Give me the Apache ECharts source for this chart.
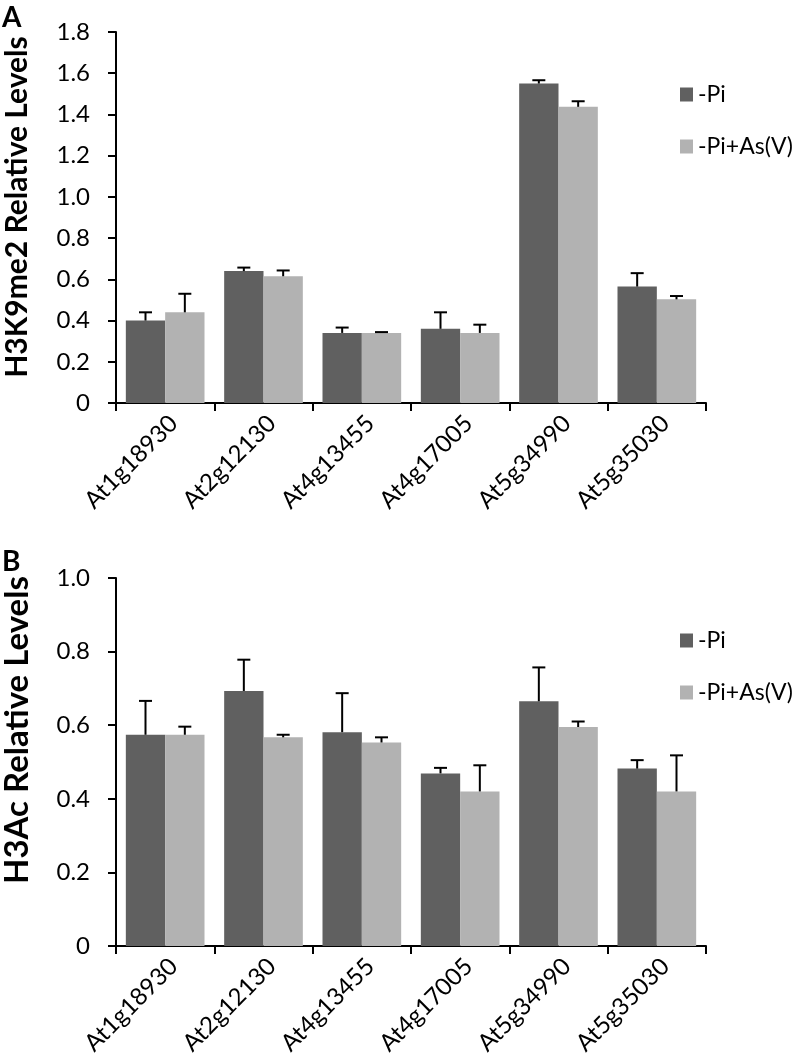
<!DOCTYPE html>
<html>
<head>
<meta charset="utf-8">
<script src="https://cdn.jsdelivr.net/npm/echarts@6/dist/echarts.min.js"></script>
<style>
html,body{margin:0;padding:0;background:#fff;}
#chart{width:792px;height:1058px;}
</style>
</head>
<body>
<div id="chart"></div>
<script>
const categories = ['At1g18930', 'At2g12130', 'At4g13455', 'At4g17005', 'At5g34990', 'At5g35030'];
const seriesNames = ['-Pi', '-Pi+As(V)'];
const panelLetters = ['A', 'B'];
const yTitles = ['H3K9me2 Relative Levels', 'H3Ac Relative Levels'];

// Panel A: H3K9me2
const h3k9Pi = [0.40, 0.64, 0.34, 0.36, 1.55, 0.565];
const h3k9PiErr = [0.04, 0.017, 0.026, 0.08, 0.016, 0.065];
const h3k9As = [0.44, 0.615, 0.34, 0.34, 1.437, 0.503];
const h3k9AsErr = [0.09, 0.028, 0.004, 0.04, 0.027, 0.016];

// Panel B: H3Ac
const h3acPi = [0.574, 0.693, 0.581, 0.469, 0.665, 0.482];
const h3acPiErr = [0.092, 0.085, 0.106, 0.015, 0.092, 0.023];
const h3acAs = [0.574, 0.567, 0.553, 0.420, 0.595, 0.420];
const h3acAsErr = [0.022, 0.007, 0.014, 0.071, 0.015, 0.098];

const yMax = [1.8, 1.0];
const yInterval = 0.2;

const DARK = '#606060';
const LIGHT = '#b2b2b2';
const FONT = 'Lato, "Open Sans", sans-serif';

const chart = echarts.init(document.getElementById('chart'), null, {renderer: 'canvas'});

const grids = [
  {left: 116, top: 32, width: 590, height: 371},
  {left: 116, top: 578, width: 590, height: 371}
];

function xAxisFor(idx) {
  return {
    type: 'category', gridIndex: idx, data: categories,
    axisLine: {lineStyle: {color: '#000', width: 2}},
    axisTick: {show: true, length: 8, lineStyle: {color: '#000', width: 2}},
    axisLabel: {
      rotate: 45, margin: 8, color: '#000', fontFamily: FONT, fontSize: 24,
      verticalAlign: 'top', interval: 0
    }
  };
}
function yAxisFor(idx) {
  return {
    type: 'value', gridIndex: idx, min: 0, max: yMax[idx], interval: yInterval,
    splitLine: {show: false},
    axisLine: {show: true, lineStyle: {color: '#000', width: 2}},
    axisTick: {show: true, length: 8, lineStyle: {color: '#000', width: 2}},
    axisLabel: {
      margin: 26, color: '#000', fontFamily: FONT, fontSize: 24,
      formatter: v => (Math.abs(v) < 1e-9 ? '0' : v.toFixed(1))
    }
  };
}

function barSeries(name, data, idx, color) {
  return {
    name: name, type: 'bar', xAxisIndex: idx, yAxisIndex: idx, data: data,
    barGap: '0%', barCategoryGap: '20%',
    itemStyle: {color: color},
    z: 2
  };
}

function errSeries(values, errs, idx, side) {
  return {
    type: 'custom', xAxisIndex: idx, yAxisIndex: idx, z: 5,
    silent: true,
    data: values.map((v, i) => [i, v, errs[i]]),
    encode: {x: 0, y: 1},
    renderItem: function (params, api) {
      const i = api.value(0), v = api.value(1), e = api.value(2);
      const base = api.coord([i, v]);
      const top = api.coord([i, v + e]);
      const catW = api.size([1, 0])[0];
      const bw = catW * 0.8 / 2;
      const x = base[0] + side * bw / 2;
      const cap = 6.5;
      const st = {stroke: '#000', lineWidth: 2};
      return {
        type: 'group',
        children: [
          {type: 'line', shape: {x1: x, y1: base[1], x2: x, y2: top[1]}, style: st},
          {type: 'line', shape: {x1: x - cap, y1: top[1], x2: x + cap, y2: top[1]}, style: st}
        ]
      };
    }
  };
}

function legendFor(name, top) {
  return {
    data: [name], left: 675, top: top, orient: 'vertical',
    icon: 'rect', itemWidth: 13, itemHeight: 14, selectedMode: false,
    textStyle: {color: '#000', fontFamily: FONT, fontSize: 23}
  };
}

const option = {
  animation: false,
  backgroundColor: '#fff',
  grid: grids,
  xAxis: [xAxisFor(0), xAxisFor(1)],
  yAxis: [yAxisFor(0), yAxisFor(1)],
  legend: [
    legendFor(seriesNames[0], 78),
    legendFor(seriesNames[1], 130),
    legendFor(seriesNames[0], 624),
    legendFor(seriesNames[1], 676)
  ],
  graphic: [
    {type: 'text', left: 2, top: 4, style: {text: panelLetters[0], font: 'bold 28px ' + FONT, fill: '#000'}},
    {type: 'text', left: 2, top: 548, style: {text: panelLetters[1], font: 'bold 28px ' + FONT, fill: '#000'}},
    {type: 'text', x: 17, y: 207, rotation: Math.PI / 2,
      style: {text: yTitles[0], font: 'bold 30px ' + FONT, fill: '#000', textAlign: 'center', textVerticalAlign: 'middle'}},
    {type: 'text', x: 17, y: 730, rotation: Math.PI / 2,
      style: {text: yTitles[1], font: 'bold 33px ' + FONT, fill: '#000', textAlign: 'center', textVerticalAlign: 'middle'}}
  ],
  series: [
    barSeries(seriesNames[0], h3k9Pi, 0, DARK),
    barSeries(seriesNames[1], h3k9As, 0, LIGHT),
    barSeries(seriesNames[0], h3acPi, 1, DARK),
    barSeries(seriesNames[1], h3acAs, 1, LIGHT),
    errSeries(h3k9Pi, h3k9PiErr, 0, -1),
    errSeries(h3k9As, h3k9AsErr, 0, 1),
    errSeries(h3acPi, h3acPiErr, 1, -1),
    errSeries(h3acAs, h3acAsErr, 1, 1)
  ]
};
chart.setOption(option);
</script>
</body>
</html>
